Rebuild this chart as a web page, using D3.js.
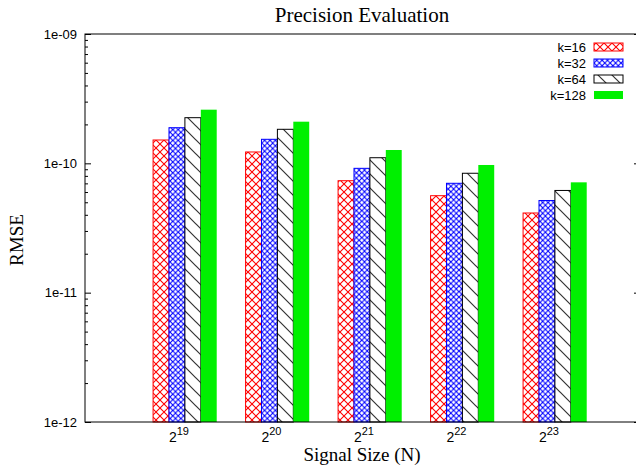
<!DOCTYPE html>
<html><head><meta charset="utf-8">
<script src="https://cdn.jsdelivr.net/npm/d3@7"></script>
<style>body{margin:0;background:#fff;} svg{display:block;}</style>
</head><body>
<svg id="chart" width="636" height="468"></svg>
<script>
const categories = ["19", "20", "21", "22", "23"]; // exponents of 2
const seriesNames = ["k=16", "k=32", "k=64", "k=128"];
const k16  = [1.515e-10, 1.224e-10, 7.34e-11, 5.62e-11, 4.13e-11];
const k32  = [1.886e-10, 1.534e-10, 9.15e-11, 7.01e-11, 5.16e-11];
const k64  = [2.254e-10, 1.833e-10, 1.105e-10, 8.38e-11, 6.17e-11];
const k128 = [2.599e-10, 2.099e-10, 1.268e-10, 9.71e-11, 7.13e-11];
const yTickValues = [1e-12, 1e-11, 1e-10, 1e-9];
const yTickLabels = ["1e-12", "1e-11", "1e-10", "1e-09"];

const series = [k16, k32, k64, k128];
const colors = ["#ff0000", "#0000ff", "#000000", "#00f000"];
const fills = ["url(#patRed)", "url(#patBlue)", "url(#patBlack)", "#00f000"];

const svg = d3.select("#chart");
const L = 85, R = 640, T = 34, B = 422;

const x = d3.scaleLinear().domain([-1.08, 4.92]).range([L, R]);
const y = d3.scaleLog().domain([1e-12, 1e-9]).range([B, T]);
const barW = 0.172;

// patterns
const defs = svg.append("defs");
function cross(id, size, color, sw) {
  const p = defs.append("pattern").attr("id", id).attr("patternUnits", "userSpaceOnUse")
    .attr("width", size).attr("height", size);
  p.append("rect").attr("width", size).attr("height", size).attr("fill", "#fff");
  p.append("path").attr("d", `M0,0L${size},${size}M${size},0L0,${size}`)
    .attr("stroke", color).attr("stroke-width", sw).attr("fill", "none");
}
cross("patRed", 8, "#ff0000", 1.1);
cross("patBlue", 5.4, "#0000ff", 1.1);
{
  const s = 14;
  const p = defs.append("pattern").attr("id", "patBlack").attr("patternUnits", "userSpaceOnUse")
    .attr("width", s).attr("height", s);
  p.append("rect").attr("width", s).attr("height", s).attr("fill", "#fff");
  p.append("path").attr("d", `M0,0L${s},${s}M${-s/2},${s/2}L${s/2},${s*1.5}M${s/2},${-s/2}L${s*1.5},${s/2}`)
    .attr("stroke", "#333").attr("stroke-width", 1.2).attr("fill", "none");
}

// bars
series.forEach((vals, j) => {
  svg.append("g").selectAll("rect").data(vals).join("rect")
    .attr("x", (d, i) => x(i + (j - 2) * barW))
    .attr("y", d => y(d))
    .attr("width", x(barW) - x(0))
    .attr("height", d => B - y(d))
    .attr("fill", fills[j])
    .attr("stroke", j === 3 ? "none" : colors[j])
    .attr("stroke-width", 1);
});

// frame
svg.append("rect").attr("x", L).attr("y", T).attr("width", R - L).attr("height", B - T)
  .attr("fill", "none").attr("stroke", "#000").attr("stroke-width", 1);

// y axes: major & minor ticks inward
const minor = [];
for (let e = -12; e < -9; e++) for (let m = 2; m <= 9; m++) minor.push(m * Math.pow(10, e));

function ticks(g) { g.select(".domain").remove(); g.selectAll("line").attr("stroke", "#000"); }
svg.append("g").attr("transform", `translate(${L},0)`)
  .call(d3.axisRight(y).tickValues(yTickValues).tickSize(6).tickFormat(""))
  .call(ticks);
svg.append("g").attr("transform", `translate(${L},0)`)
  .call(d3.axisRight(y).tickValues(minor).tickSize(3).tickFormat(""))
  .call(ticks);
svg.append("g").attr("transform", `translate(${R},0)`)
  .call(d3.axisLeft(y).tickValues(yTickValues).tickSize(6).tickFormat(""))
  .call(ticks);
svg.append("g").attr("transform", `translate(${R},0)`)
  .call(d3.axisLeft(y).tickValues(minor).tickSize(3).tickFormat(""))
  .call(ticks);

// y tick labels
svg.append("g").selectAll("text").data(yTickValues).join("text")
  .attr("x", L - 8).attr("y", d => y(d)).attr("dy", "0.35em")
  .attr("text-anchor", "end")
  .attr("font-family", "Liberation Sans, Arial, sans-serif").attr("font-size", 13)
  .text((d, i) => yTickLabels[i]);

// x tick labels 2^n
const xl = svg.append("g").selectAll("text").data(categories).join("text")
  .attr("x", (d, i) => x(i) - 6).attr("y", 442)
  .attr("text-anchor", "middle")
  .attr("font-family", "Liberation Sans, Arial, sans-serif").attr("font-size", 14);
xl.append("tspan").text("2");
xl.append("tspan").attr("dy", -7).attr("font-size", 11).text(d => d);

// title & axis labels
svg.append("text").attr("x", 362).attr("y", 22).attr("text-anchor", "middle")
  .attr("font-family", "Liberation Serif, Times New Roman, serif").attr("font-size", 21)
  .text("Precision Evaluation");
svg.append("text").attr("x", 362).attr("y", 461).attr("text-anchor", "middle")
  .attr("font-family", "Liberation Serif, Times New Roman, serif").attr("font-size", 19)
  .text("Signal Size (N)");
svg.append("text").attr("transform", "translate(23,240) rotate(-90)").attr("text-anchor", "middle")
  .attr("font-family", "Liberation Serif, Times New Roman, serif").attr("font-size", 19)
  .text("RMSE");

// legend
const lg = svg.append("g").selectAll("g").data(seriesNames).join("g")
  .attr("transform", (d, i) => `translate(0,${47 + i * 16})`);
lg.append("text").attr("x", 586).attr("y", 0).attr("dy", "0.35em").attr("text-anchor", "end")
  .attr("font-family", "Liberation Sans, Arial, sans-serif").attr("font-size", 13)
  .text(d => d);
lg.append("rect").attr("x", 594).attr("y", -4).attr("width", 29).attr("height", 8)
  .attr("fill", (d, i) => fills[i]).attr("stroke", (d, i) => i === 3 ? "none" : colors[i]);
</script>
</body></html>
